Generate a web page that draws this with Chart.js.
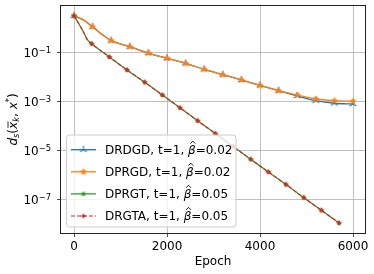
<!DOCTYPE html>
<html>
<head>
<meta charset="utf-8">
<script src="https://cdn.jsdelivr.net/npm/chart.js@4"></script>
<style>
body { margin: 0; background: #fff; }
</style>
</head>
<body>
<canvas id="distChart" width="374" height="274"></canvas>
<script>
// epochs and distances
const epochsSlow = [0, 200, 400, 600, 800, 1200, 1600, 2000, 2400, 2800, 3200, 3600, 4000, 4400, 4800, 5200, 5600, 6000];
const drdgd = [3.1, 2.1, 1.1, 0.54, 0.30, 0.17, 0.093, 0.057, 0.0355, 0.0202, 0.0122, 0.0074, 0.0045, 0.0027, 0.00165, 0.00106, 0.00083, 0.00078];
const dprgd = [3.1, 2.1, 1.1, 0.54, 0.30, 0.17, 0.093, 0.057, 0.0355, 0.0202, 0.0122, 0.0074, 0.0045, 0.0027, 0.0018, 0.00124, 0.00106, 0.00100];

const epochsFast = [0, 100, 200, 290, 380, 760, 1140, 1520, 1900, 2280, 2660, 3040, 3420, 3800, 4180, 4560, 4940, 5320, 5700];
const dprgt = [3.1, 1.5, 0.69, 0.32, 0.224, 0.0645, 0.019, 0.006, 0.0018, 5.4e-4, 1.6e-4, 4.8e-5, 1.43e-5, 4.3e-6, 1.3e-6, 4.0e-7, 1.17e-7, 3.55e-8, 1.07e-8];
const drgta = [3.1, 1.5, 0.69, 0.32, 0.224, 0.0645, 0.019, 0.006, 0.0018, 5.4e-4, 1.6e-4, 4.8e-5, 1.43e-5, 4.3e-6, 1.3e-6, 4.0e-7, 1.17e-7, 3.55e-8, 1.07e-8];

const seriesNames = ['DRDGD', 'DPRGD', 'DPRGT', 'DRGTA'];
const betaValues = ['0.02', '0.02', '0.05', '0.05'];
const xTicks = [0, 2000, 4000, 6000];
const yTicks = [1e-1, 1e-3, 1e-5, 1e-7];
const yTickExp = ['\u22121', '\u22123', '\u22125', '\u22127'];

const FONT = 'DejaVu Sans';

function makeMarker(r, draw) {
    const s = Math.ceil(r) * 2 + 4;
    const c = document.createElement('canvas');
    c.width = s;
    c.height = s;
    const g = c.getContext('2d');
    g.translate(s / 2, s / 2);
    draw(g, r);
    return c;
}

function star(color, lw) {
    return (g, r) => {
        g.beginPath();
        for (let i = 0; i < 10; i++) {
            const a = -Math.PI / 2 + i * Math.PI / 5;
            const rr = i % 2 ? r * 0.42 : r;
            g.lineTo(rr * Math.cos(a), rr * Math.sin(a));
        }
        g.closePath();
        g.fillStyle = color;
        g.fill();
        g.strokeStyle = color;
        g.lineWidth = lw;
        g.stroke();
    };
}

const triMarker = makeMarker(4, (g, r) => {
    g.strokeStyle = '#1f77b4';
    g.lineWidth = 1.1;
    g.beginPath();
    g.moveTo(0, 0); g.lineTo(0, -r);
    g.moveTo(0, 0); g.lineTo(-r * 0.866, r * 0.5);
    g.moveTo(0, 0); g.lineTo(r * 0.866, r * 0.5);
    g.stroke();
});
const orangeStar = makeMarker(3.1, star('#ff7f0e', 0.8));
const greenStar = makeMarker(2.5, star('#2ca02c', 0.6));
const redPlus = makeMarker(2.3, (g, r) => {
    g.strokeStyle = '#d62728';
    g.lineWidth = 1.5;
    g.beginPath();
    g.moveTo(-r, 0); g.lineTo(r, 0);
    g.moveTo(0, -r); g.lineTo(0, r);
    g.stroke();
});

const colors = ['#1f77b4', '#ff7f0e', '#2ca02c', '#d62728'];
const markers = [triMarker, orangeStar, greenStar, redPlus];
const dashes = [[], [], [], [4, 2]];

function toPoints(xs, ys) {
    return xs.map((x, i) => ({ x: x, y: ys[i] }));
}

function markEvery(step) {
    return ctx => (ctx.raw && ctx.raw.x % step === 0) ? 4 : 0;
}

const seriesData = [
    toPoints(epochsSlow, drdgd),
    toPoints(epochsSlow, dprgd),
    toPoints(epochsFast, dprgt),
    toPoints(epochsFast, drgta)
];
const markSteps = [400, 400, 380, 380];

const datasets = seriesNames.map((name, i) => ({
    label: name,
    data: seriesData[i],
    borderColor: colors[i],
    backgroundColor: colors[i],
    borderWidth: i === 3 ? 1.2 : 1.3,
    borderDash: dashes[i],
    pointStyle: markers[i],
    pointRadius: markEvery(markSteps[i]),
    cubicInterpolationMode: 'monotone',
    order: 4 - i
}));

const textPlugin = {
    id: 'mplText',
    afterDraw(chart) {
        const ctx = chart.ctx;
        const area = chart.chartArea;
        const xs = chart.scales.x;
        const ys = chart.scales.y;
        ctx.save();

        // frame
        ctx.strokeStyle = '#222';
        ctx.lineWidth = 1;
        ctx.strokeRect(area.left - 0.5, area.top - 0.5, area.right - area.left + 1, area.bottom - area.top + 1);

        ctx.fillStyle = '#000';
        ctx.textBaseline = 'alphabetic';

        // x tick labels
        ctx.font = '12px "' + FONT + '"';
        ctx.textAlign = 'center';
        xTicks.forEach(v => {
            ctx.fillText(String(v), xs.getPixelForValue(v), 250);
        });
        ctx.fillText('Epoch', (area.left + area.right) / 2, 264.5);

        // y tick labels 10^-n
        ctx.textAlign = 'left';
        yTicks.forEach((v, i) => {
            const py = ys.getPixelForValue(v);
            ctx.font = '12px "' + FONT + '"';
            const wBase = ctx.measureText('10').width;
            ctx.font = '8.4px "' + FONT + '"';
            const wExp = ctx.measureText(yTickExp[i]).width;
            const x0 = 51 - wBase - wExp;
            ctx.font = '12px "' + FONT + '"';
            ctx.fillText('10', x0, py + 4.4);
            ctx.font = '8.4px "' + FONT + '"';
            ctx.fillText(yTickExp[i], x0 + wBase, py + 0.3);
        });

        // y axis label: d_s(x̄_k, x^*)
        const parts = [
            { t: 'd', f: 'italic 12px', dy: 0 },
            { t: 's', f: 'italic 8.4px', dy: 2.5 },
            { t: '(', f: '12px', dy: 0 },
            { t: 'x', f: 'italic 12px', dy: 0, bar: true },
            { t: 'k', f: 'italic 8.4px', dy: 2.5 },
            { t: ', ', f: '12px', dy: 0 },
            { t: 'x', f: 'italic 12px', dy: 0 },
            { t: '*', f: '8.4px', dy: -5 },
            { t: ')', f: '12px', dy: 0 }
        ];
        let total = 0;
        parts.forEach(p => {
            ctx.font = p.f + ' "' + FONT + '"';
            p.w = ctx.measureText(p.t).width;
            total += p.w;
        });
        ctx.translate(16.5, (area.top + area.bottom) / 2);
        ctx.rotate(-Math.PI / 2);
        let cx = -total / 2;
        parts.forEach(p => {
            ctx.font = p.f + ' "' + FONT + '"';
            ctx.fillText(p.t, cx, p.dy);
            if (p.bar) {
                ctx.lineWidth = 0.8;
                ctx.strokeStyle = '#000';
                ctx.beginPath();
                ctx.moveTo(cx + 1, -8.5);
                ctx.lineTo(cx + p.w + 0.5, -8.5);
                ctx.stroke();
            }
            cx += p.w;
        });
        ctx.restore();

        // legend
        ctx.save();
        const lx = 66.5, ly = 135, lw = 169.5, lh = 92;
        ctx.beginPath();
        ctx.roundRect(lx, ly, lw, lh, 3);
        ctx.fillStyle = 'rgba(255,255,255,0.8)';
        ctx.fill();
        ctx.strokeStyle = '#cccccc';
        ctx.lineWidth = 1;
        ctx.stroke();
        seriesNames.forEach((name, i) => {
            const cy = 149.7 + i * 22.1;
            ctx.strokeStyle = colors[i];
            ctx.lineWidth = i === 3 ? 1.2 : 1.3;
            ctx.setLineDash(dashes[i]);
            ctx.beginPath();
            ctx.moveTo(71, cy);
            ctx.lineTo(96, cy);
            ctx.stroke();
            ctx.setLineDash([]);
            const m = markers[i];
            ctx.drawImage(m, 83.5 - m.width / 2, cy - m.height / 2);

            ctx.fillStyle = '#000';
            ctx.textAlign = 'left';
            const base = cy + 4.4;
            let tx = 105;
            ctx.font = '12px "' + FONT + '"';
            const head = name + ', t=1, ';
            ctx.fillText(head, tx, base);
            tx += ctx.measureText(head).width;
            ctx.font = 'italic 12px "' + FONT + '"';
            ctx.fillText('\u03b2', tx, base);
            const bw = ctx.measureText('\u03b2').width;
            ctx.strokeStyle = '#000';
            ctx.lineWidth = 0.9;
            ctx.beginPath();
            ctx.moveTo(tx + bw / 2 - 1.5, base - 10.5);
            ctx.lineTo(tx + bw / 2 + 1, base - 13);
            ctx.lineTo(tx + bw / 2 + 3.5, base - 10.5);
            ctx.stroke();
            tx += bw;
            ctx.font = '12px "' + FONT + '"';
            ctx.fillText('=' + betaValues[i], tx, base);
        });
        ctx.restore();
    }
};

new Chart(document.getElementById('distChart'), {
    type: 'line',
    data: { datasets: datasets },
    options: {
        responsive: false,
        animation: false,
        events: [],
        layout: { padding: { top: 6, right: 9, left: 0, bottom: 0 } },
        plugins: {
            legend: { display: false },
            tooltip: { enabled: false }
        },
        scales: {
            x: {
                type: 'linear',
                min: -280,
                max: 6258,
                afterBuildTicks: s => { s.ticks = xTicks.map(v => ({ value: v })); },
                afterFit: s => { s.height = 41; },
                ticks: { display: false },
                grid: { color: '#b0b0b0', lineWidth: 0.8, tickColor: '#222', tickLength: 4 },
                border: { display: false }
            },
            y: {
                type: 'logarithmic',
                min: 4.2e-9,
                max: 7.76,
                afterBuildTicks: s => { s.ticks = yTicks.map(v => ({ value: v })); },
                afterFit: s => { s.width = 61; },
                ticks: { display: false },
                grid: { color: '#b0b0b0', lineWidth: 0.8, tickColor: '#222', tickLength: 4 },
                border: { display: false }
            }
        }
    },
    plugins: [textPlugin]
});
</script>
</body>
</html>
